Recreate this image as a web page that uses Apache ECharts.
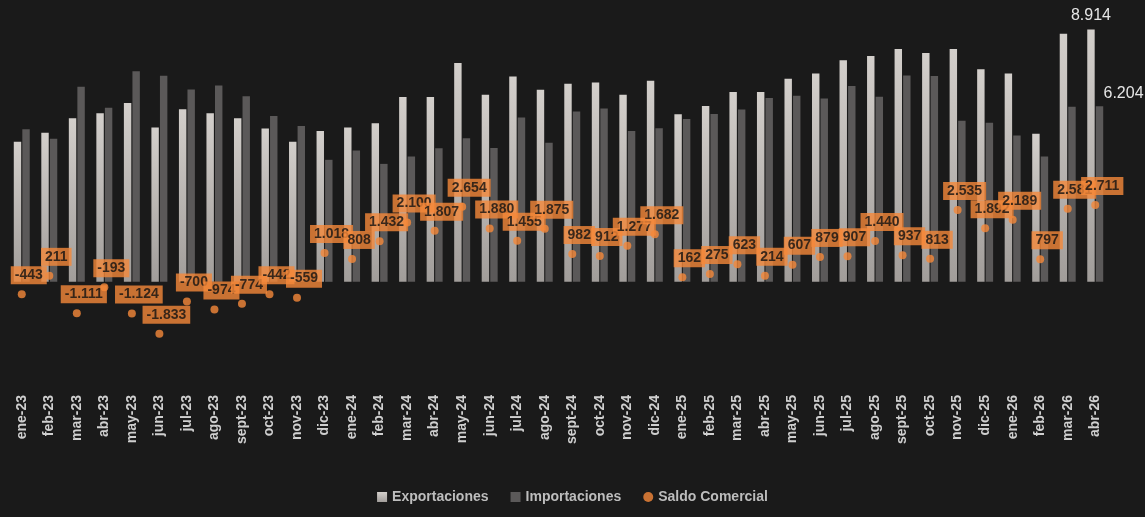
<!DOCTYPE html>
<html style="height: 100%">
<head><meta charset="utf-8"></head>
<body style="height: 100%; margin: 0; background: #1a1a1a">
<div id="container" style="width: 1145px; height: 517px"></div>
<script src="https://cdn.jsdelivr.net/npm/echarts@6/dist/echarts.min.js"></script>
<script>
const meses = ['ene-23','feb-23','mar-23','abr-23','may-23','jun-23','jul-23','ago-23','sept-23','oct-23','nov-23','dic-23',
  'ene-24','feb-24','mar-24','abr-24','may-24','jun-24','jul-24','ago-24','sept-24','oct-24','nov-24','dic-24',
  'ene-25','feb-25','mar-25','abr-25','may-25','jun-25','jul-25','ago-25','sept-25','oct-25','nov-25','dic-25',
  'ene-26','feb-26','mar-26','abr-26'];
const exportaciones = [4950,5270,5780,5960,6320,5450,6100,5960,5780,5420,4950,5330,
  5450,5600,6530,6530,7730,6610,7260,6790,7000,7040,6610,7110,
  5920,6210,6710,6710,7180,7360,7830,7980,8230,8090,8230,7510,
  7360,5230,8770,8914];
const importaciones = [5393,5059,6891,6153,7444,7283,6800,6934,6554,5862,5509,4312,
  4642,4168,4430,4723,5076,4730,5805,4915,6018,6128,5333,5428,
  5758,5935,6087,6496,6573,6481,6923,6540,7293,7277,5695,5618,
  5171,4433,6189,6204];
const saldo = [-443,211,-1111,-193,-1124,-1833,-700,-974,-774,-442,-559,1018,
  808,1432,2100,1807,2654,1880,1455,1875,982,912,1277,1682,
  162,275,623,214,607,879,907,1440,937,813,2535,1892,2189,797,2581,2711];

const fmt = v => {
  const s = Math.abs(v).toString().replace(/\B(?=(\d{3})+(?!\d))/g, '.');
  return (v < 0 ? '-' : '') + s;
};
const font = "'Liberation Sans Narrow', 'Liberation Sans', sans-serif";
const last = meses.length - 1;

const chart = echarts.init(document.getElementById('container'));
chart.setOption({
  backgroundColor: '#1a1a1a',
  animation: false,
  textStyle: { fontFamily: font },
  grid: { left: 8, right: 36, top: 13, bottom: 122 },
  legend: {
    bottom: 8, itemWidth: 10, itemHeight: 10, itemGap: 22,
    textStyle: { color: '#bdbdbd', fontWeight: 'bold', fontSize: 14, fontFamily: font },
    data: [
      { name: 'Exportaciones', icon: 'rect' },
      { name: 'Importaciones', icon: 'rect' },
      { name: 'Saldo Comercial', icon: 'circle' }
    ]
  },
  xAxis: {
    type: 'category', data: meses,
    axisLine: { show: false }, axisTick: { show: false },
    axisLabel: { rotate: 90, color: '#cfcfcf', fontWeight: 'bold', fontSize: 14, margin: 0, interval: 0, fontFamily: font }
  },
  yAxis: { type: 'value', min: -4000, max: 9500, show: false, splitLine: { show: false } },
  series: [
    {
      name: 'Exportaciones', type: 'bar', data: exportaciones,
      barGap: '15%', barCategoryGap: '42%',
      itemStyle: { color: new echarts.graphic.LinearGradient(0, 0, 0, 1, [
        { offset: 0, color: '#d3cfcb' }, { offset: 1, color: '#a19d9a' }]) },
      label: { show: true, position: 'top', distance: 6, color: '#e6e6e6', fontSize: 16, fontFamily: font,
        formatter: p => p.dataIndex === last ? fmt(p.value) : '' }
    },
    {
      name: 'Importaciones', type: 'bar', data: importaciones,
      itemStyle: { color: '#5b5959' },
      label: { show: true, position: 'top', offset: [24, 0], color: '#e6e6e6', fontSize: 16, fontFamily: font,
        formatter: p => p.dataIndex === last ? fmt(p.value) : '' }
    },
    {
      name: 'Saldo Comercial', type: 'scatter', data: saldo, symbolSize: 8,
      itemStyle: { color: '#f5883a' }, z: 5,
      label: {
        show: true, position: 'top', distance: 6, offset: [7, 0],
        backgroundColor: '#f5883a', color: '#111', fontWeight: 'bold', fontSize: 14,
        fontFamily: font, padding: [2, 4], formatter: p => fmt(p.value)
      }
    }
  ]
});
</script>
</body>
</html>
